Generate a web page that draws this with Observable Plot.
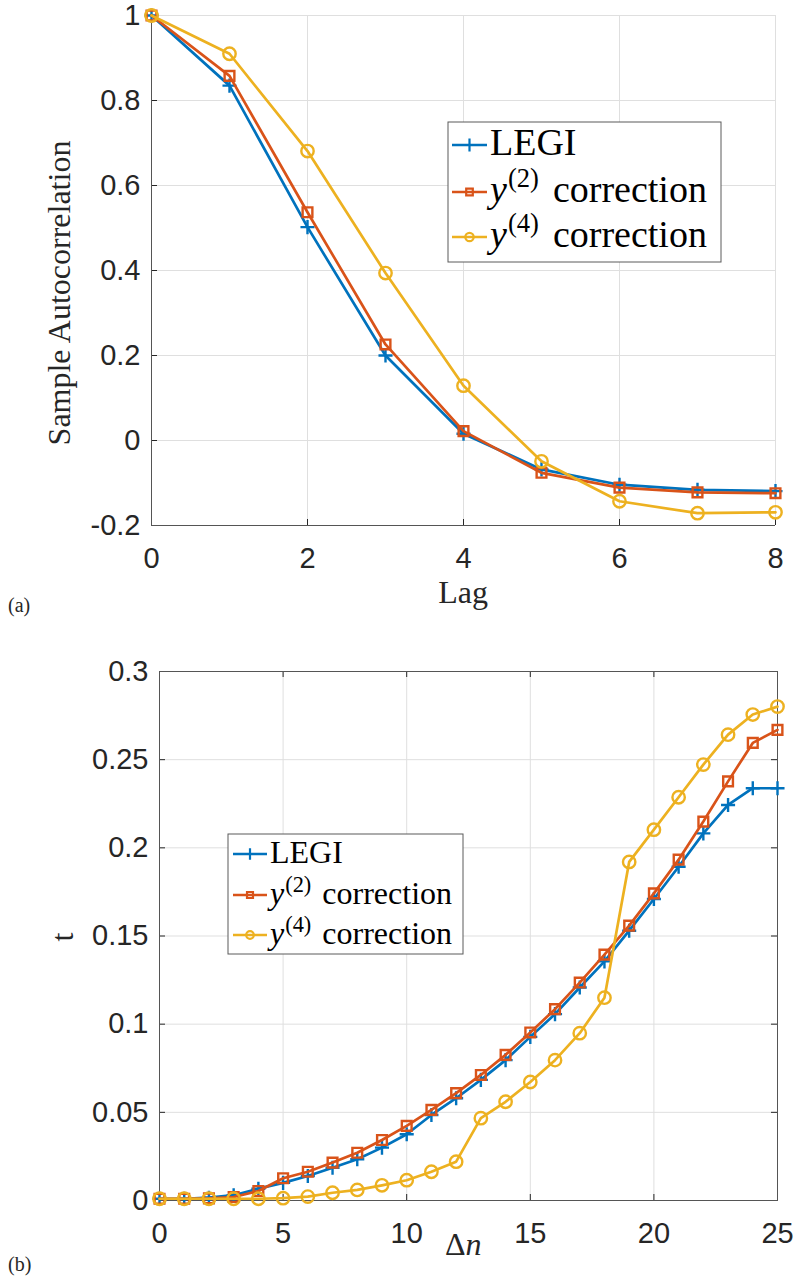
<!DOCTYPE html>
<html><head><meta charset="utf-8">
<script src="https://cdn.jsdelivr.net/npm/d3@7"></script>
<script src="https://cdn.jsdelivr.net/npm/@observablehq/plot@0.6"></script>
<style>body{margin:0;background:#fff} svg{display:block}</style>
</head><body><div id="chart"></div>
<script>
// ---------- data: panel (a) ----------
const lag = [0, 1, 2, 3, 4, 5, 6, 7, 8];
const acfLEGI = [1, 0.835, 0.502, 0.200, 0.016, -0.068, -0.104, -0.116, -0.119];
const acfY2   = [1, 0.858, 0.537, 0.226, 0.022, -0.076, -0.111, -0.122, -0.124];
const acfY4   = [1, 0.910, 0.681, 0.394, 0.129, -0.049, -0.143, -0.171, -0.169];
const lagTicks = [0, 2, 4, 6, 8];
const acfTicks = [-0.2, 0, 0.2, 0.4, 0.6, 0.8, 1];
const acfTickLabels = ["-0.2", "0", "0.2", "0.4", "0.6", "0.8", "1"];

// ---------- data: panel (b) ----------
const dn = [0,1,2,3,4,5,6,7,8,9,10,11,12,13,14,15,16,17,18,19,20,21,22,23,24,25];
const tLEGI = [0.001,0.001,0.0016,0.003,0.0067,0.010,0.0139,0.0186,0.0234,0.030,0.0376,0.0485,0.058,0.0684,0.0796,0.0928,0.1057,0.1208,0.1356,0.153,0.171,0.1893,0.2082,0.2243,0.2338,0.2338];
const tY2   = [0.001,0.001,0.0012,0.002,0.0054,0.0126,0.0163,0.0215,0.0271,0.0343,0.0423,0.0514,0.0609,0.0712,0.0826,0.0953,0.1085,0.1236,0.1394,0.1559,0.1742,0.1933,0.2149,0.2377,0.2595,0.2669];
const tY4   = [0.001,0.001,0.001,0.001,0.001,0.0013,0.0022,0.0044,0.006,0.0086,0.0115,0.0163,0.022,0.0467,0.056,0.0672,0.0796,0.0949,0.115,0.192,0.2103,0.2287,0.2472,0.2642,0.2756,0.2801];
const dnTicks = [0, 5, 10, 15, 20, 25];
const tTicks = [0, 0.05, 0.1, 0.15, 0.2, 0.25, 0.3];
const tTickLabels = ["0", "0.05", "0.1", "0.15", "0.2", "0.25", "0.3"];

// ---------- series ----------
const seriesKeys = ["LEGI", "y2", "y4"];
const seriesSup = [null, "(2)", "(4)"];
const colors = ["#0072BD", "#D95319", "#EDB120"];
const symbols = ["plus", "square2", "circle"];
const markerR = [4.6, 6.2, 6.2];

const SANS = "'Liberation Sans', Arial, Helvetica, sans-serif";
const SERIF = "'Liberation Serif', 'Times New Roman', serif";
const INK = "#262626";
const GRID = "#dfdfdf";

function tidy(xs, ys) {
  const out = [];
  ys.forEach((arr, s) => arr.forEach((v, i) => out.push({x: xs[i], y: v, s})));
  return out;
}

function seriesMarks(data) {
  const marks = [];
  seriesKeys.forEach((k, s) => {
    const d = data.filter(p => p.s === s);
    marks.push(Plot.line(d, {x: "x", y: "y", stroke: colors[s], strokeWidth: 2.7}));
    marks.push(Plot.dot(d, {x: "x", y: "y", symbol: symbols[s], r: markerR[s],
      stroke: colors[s], strokeWidth: 2.4, fill: "none"}));
  });
  return marks;
}

function addLegend(svg, o) {
  const g = d3.select(svg).append("g");
  g.append("rect").attr("x", o.x).attr("y", o.y).attr("width", o.w).attr("height", o.h)
    .attr("fill", "white").attr("stroke", "#5a5a5a").attr("stroke-width", 1);
  seriesKeys.forEach((k, s) => {
    const cy = o.rows[s];
    g.append("line").attr("x1", o.lx1).attr("x2", o.lx2).attr("y1", cy).attr("y2", cy)
      .attr("stroke", colors[s]).attr("stroke-width", 2.6);
    const sym = s === 0 ? d3.symbolPlus : s === 1 ? d3.symbolSquare2 : d3.symbolCircle;
    g.append("path").attr("d", d3.symbol(sym, Math.PI * o.mr * o.mr)())
      .attr("transform", `translate(${(o.lx1 + o.lx2) / 2},${cy})`)
      .attr("fill", "none").attr("stroke", colors[s]).attr("stroke-width", 2.2);
    const t = g.append("text").attr("x", o.tx).attr("y", cy + o.base)
      .attr("text-anchor", "start")
      .attr("font-family", SERIF).attr("font-size", o.fs).attr("fill", "black");
    if (s === 0) {
      t.text("LEGI");
    } else {
      t.append("tspan").attr("font-style", "italic").text("y");
      t.append("tspan").attr("font-size", o.fs * 0.7).attr("dy", -o.rise).attr("dx", 1).text(seriesSup[s]);
      t.append("tspan").attr("dy", o.rise).attr("dx", o.gap).text("correction");
    }
  });
}

function addText(svg, str, x, y, fs, rotate, anchor) {
  d3.select(svg).append("text")
    .attr("transform", `translate(${x},${y})` + (rotate ? " rotate(-90)" : ""))
    .attr("text-anchor", anchor || "middle")
    .attr("font-family", SERIF).attr("font-size", fs).attr("fill", INK)
    .text(str);
}

// ---------- panel (a) ----------
const W = 797;
const A = {h: 620, mt: 15, mr: 22, mb: 95, ml: 151};
const aFrameW = W - A.ml - A.mr, aFrameH = A.h - A.mt - A.mb;
const dataA = tidy(lag, [acfLEGI, acfY2, acfY4]);

const svgA = Plot.plot({
  width: W, height: A.h,
  marginTop: A.mt, marginRight: A.mr, marginBottom: A.mb, marginLeft: A.ml,
  style: {background: "white", color: INK},
  x: {domain: [0, 8]},
  y: {domain: [-0.2, 1]},
  marks: [
    Plot.gridX(lagTicks, {stroke: GRID, strokeOpacity: 1}),
    Plot.gridY(acfTicks, {stroke: GRID, strokeOpacity: 1}),
    Plot.axisX(lagTicks, {tickSize: 0, tickPadding: 22, fontSize: 29, fontFamily: SANS, label: null, fill: INK}),
    Plot.axisY(acfTicks, {tickSize: 0, tickPadding: 11, fontSize: 29, fontFamily: SANS, label: null, fill: INK,
      tickFormat: d => acfTickLabels[acfTicks.indexOf(d)]}),
    Plot.tickX(lagTicks, {x: d => d, insetTop: aFrameH - 6, stroke: INK}),
    Plot.tickY(acfTicks, {y: d => d, insetRight: aFrameW - 6, stroke: INK}),
    Plot.ruleX([0], {stroke: "#555"}),
    Plot.ruleY([-0.2], {stroke: "#555"}),
    ...seriesMarks(dataA)
  ]
});
addText(svgA, "Sample Autocorrelation", 70, 293, 32, true);
addText(svgA, "Lag", 463, 603, 32, false);
addText(svgA, "(a)", 8, 612, 20, false, "start");
addLegend(svgA, {x: 448, y: 122, w: 273, h: 140, rows: [145, 192, 237], lx1: 452, lx2: 487, mr: 4.2,
  tx: 490, base: 10, fs: 38, rise: 15, gap: 14});

// ---------- panel (b) ----------
const B = {h: 664, mt: 51, mr: 20, mb: 84, ml: 159};
const bFrameW = W - B.ml - B.mr, bFrameH = B.h - B.mt - B.mb;
const dataB = tidy(dn, [tLEGI, tY2, tY4]);

const svgB = Plot.plot({
  width: W, height: B.h,
  marginTop: B.mt, marginRight: B.mr, marginBottom: B.mb, marginLeft: B.ml,
  style: {background: "white", color: INK},
  x: {domain: [0, 25]},
  y: {domain: [0, 0.3]},
  marks: [
    Plot.gridX(dnTicks, {stroke: GRID, strokeOpacity: 1}),
    Plot.gridY(tTicks, {stroke: GRID, strokeOpacity: 1}),
    Plot.axisX(dnTicks, {tickSize: 0, tickPadding: 22, fontSize: 29, fontFamily: SANS, label: null, fill: INK}),
    Plot.axisY(tTicks, {tickSize: 0, tickPadding: 11, fontSize: 29, fontFamily: SANS, label: null, fill: INK,
      tickFormat: d => tTickLabels[tTicks.indexOf(d)]}),
    Plot.tickX(dnTicks, {x: d => d, insetTop: bFrameH - 6, stroke: INK}),
    Plot.tickX(dnTicks, {x: d => d, insetBottom: bFrameH - 6, stroke: INK}),
    Plot.tickY(tTicks, {y: d => d, insetRight: bFrameW - 6, stroke: INK}),
    Plot.tickY(tTicks, {y: d => d, insetLeft: bFrameW - 6, stroke: INK}),
    Plot.frame({stroke: "#555"}),
    ...seriesMarks(dataB)
  ]
});
addText(svgB, "t", 73, 317, 32, true);
{
  const t = d3.select(svgB).append("text").attr("x", 445).attr("y", 635)
    .attr("text-anchor", "start")
    .attr("font-family", SERIF).attr("font-size", 32).attr("fill", INK);
  t.append("tspan").text("Δ");
  t.append("tspan").attr("font-style", "italic").text("n");
}
addText(svgB, "(b)", 8, 651, 20, false, "start");
addLegend(svgB, {x: 228, y: 214, w: 235, h: 120, rows: [234, 275, 315], lx1: 233, lx2: 267, mr: 3.8,
  tx: 270, base: 9, fs: 32, rise: 12, gap: 11});

document.getElementById("chart").append(svgA, svgB);
</script>
</body></html>
